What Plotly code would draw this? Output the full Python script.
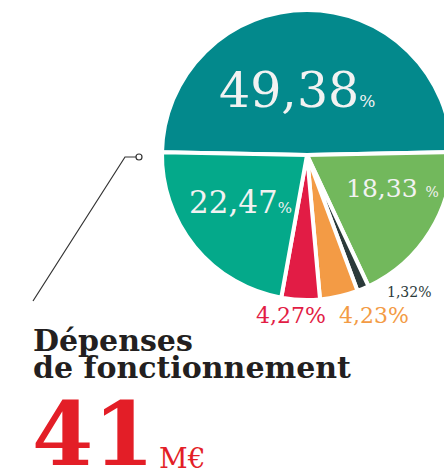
import plotly.graph_objects as go

# ---- data ----
categories = ["Poste A", "Poste B", "Poste C", "Poste D", "Poste E", "Poste F"]
values = [49.38, 18.33, 1.32, 4.23, 4.27, 22.47]
value_labels = ["49,38", "18,33", "1,32", "4,23", "4,27", "22,47"]
colors = ["#03898C", "#72B85C", "#2B3A3A", "#F39B45", "#E21C45", "#04A98A"]
title_lines = ["Dépenses", "de fonctionnement"]
total_value = "41"
total_unit = "M€"

W, H = 460, 471

def px(x):
    return x / W

def py(y):
    return 1 - y / H

# center the first (largest) slice on the top half
rotation = -90 + (50 - values[0]) / 100 * 360 / 2

fig = go.Figure()
fig.add_trace(go.Pie(
    labels=categories, values=values, sort=False, direction="clockwise",
    rotation=rotation,
    marker=dict(colors=colors, line=dict(color="white", width=4)),
    textinfo="none", hoverinfo="none", showlegend=False,
    domain=dict(x=[px(162), px(452)], y=[py(300), py(10)]),
))

SERIF = "DejaVu Serif"
ann = []
# label positions (style/layout only)
label_style = {
    0: dict(x=297, y=91, size=49, small=17, color="#F2F2F2", sep="", anchor="center"),
    1: dict(x=392, y=188, size=25, small=14, color="#F2F2F2", sep=" ", anchor="center"),
    5: dict(x=240, y=202, size=31, small=15, color="#F2F2F2", sep="", anchor="center"),
}
for i, st in label_style.items():
    ann.append(dict(
        text=f"{value_labels[i]}{st['sep']}<span style='font-size:{st['small']}px'>%</span>",
        x=px(st["x"]), y=py(st["y"]), xref="paper", yref="paper",
        xanchor=st["anchor"], yanchor="middle", showarrow=False,
        font=dict(family=SERIF, size=st["size"], color=st["color"]),
    ))
outside_style = {
    2: dict(x=409, y=292, size=14),
    3: dict(x=374, y=315, size=22),
    4: dict(x=291, y=315, size=22),
}
for i, st in outside_style.items():
    ann.append(dict(
        text=f"{value_labels[i]}%", x=px(st["x"]), y=py(st["y"]),
        xref="paper", yref="paper", xanchor="center", yanchor="middle",
        showarrow=False,
        font=dict(family=SERIF, size=st["size"], color=colors[i]),
    ))
# title
ann.append(dict(text=title_lines[0], x=px(31), y=py(340), xref="paper", yref="paper",
                xanchor="left", yanchor="middle", showarrow=False,
                font=dict(family=SERIF, size=30, color="#231F20", weight="bold")))
ann.append(dict(text=title_lines[1], x=px(31), y=py(367), xref="paper", yref="paper",
                xanchor="left", yanchor="middle", showarrow=False,
                font=dict(family=SERIF, size=30, color="#231F20", weight="bold")))
ann.append(dict(text=total_value, x=px(30), y=py(434), xref="paper", yref="paper",
                xanchor="left", yanchor="middle", showarrow=False,
                font=dict(family=SERIF, size=88, color="#E31E27", weight="bold")))
ann.append(dict(text=total_unit, x=px(157), y=py(458), xref="paper", yref="paper",
                xanchor="left", yanchor="middle", showarrow=False,
                font=dict(family=SERIF, size=28, color="#E31E27")))

shapes = [
    dict(type="path", xref="paper", yref="paper",
         path=f"M {px(33)} {py(301)} L {px(125)} {py(157)} L {px(136)} {py(157)}",
         line=dict(color="#333333", width=1.2)),
    dict(type="circle", xref="paper", yref="paper",
         x0=px(136), x1=px(142), y0=py(154), y1=py(160),
         line=dict(color="#333333", width=1.2), fillcolor="white"),
]

fig.update_layout(
    width=W, height=H, margin=dict(l=0, r=0, t=0, b=0),
    paper_bgcolor="white", plot_bgcolor="white",
    annotations=ann, shapes=shapes,
)

fig.write_html("out.html", config={"displayModeBar": False},
               post_script="document.body.style.margin='0';document.body.style.overflow='hidden';")
